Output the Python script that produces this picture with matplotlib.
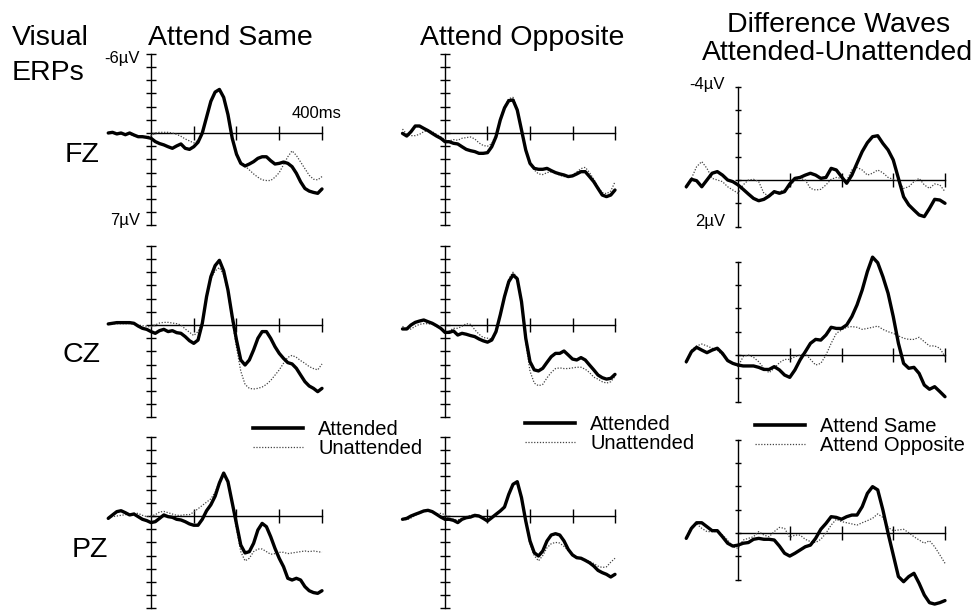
"""
Visual ERPs at FZ / CZ / PZ: Attend Same vs Attend Opposite, plus the
attended-minus-unattended difference waves. Values read off the figure
at 10 ms steps (negative up, ERP convention).
"""

import numpy as np
import matplotlib
matplotlib.use("Agg")
import matplotlib.pyplot as plt
from matplotlib.lines import Line2D

W, H = 978, 611

plt.rcParams.update({
    "font.family": ["Liberation Sans", "DejaVu Sans"],
    "axes.linewidth": 1.0,
})

# time base (ms), -100 .. 400 in 10 ms steps
t_ms = np.arange(-100, 401, 10)

# ---- Attend Same (µV) ----
same_fz_att = [0.0, -0.05, 0.07, 0.0, 0.13, 0.0, 0.15, 0.28, 0.28, 0.33,
               0.4, 0.65, 0.8, 0.9, 1.04, 1.16, 0.98, 0.83, 1.16, 1.24,
               1.04, 0.7, 0.0, -1.2, -2.4, -3.1, -3.3, -2.7, -1.4, 0.4,
               1.6, 2.3, 2.5, 2.35, 2.17, 1.92, 1.8, 1.8, 2.1, 2.35,
               2.3, 2.2, 2.3, 2.55, 3.05, 3.7, 4.2, 4.4, 4.5, 4.57,
               4.24]
same_fz_unatt = [0.0, -0.05, 0.05, 0.1, 0.1, 0.1, 0.2, 0.3, 0.3, 0.3,
                 0.2, 0.0, -0.05, -0.05, -0.05, 0.0, 0.1, 0.25, 0.45, 0.6,
                 0.75, 0.55, -0.05, -1.2, -2.4, -3.1, -3.3, -2.7, -1.4, 0.4,
                 1.7, 2.2, 2.5, 2.8, 3.1, 3.35, 3.55, 3.6, 3.6, 3.35,
                 3.0, 2.4, 1.8, 1.35, 1.7, 2.2, 2.7, 3.2, 3.5, 3.55,
                 3.3]
same_cz_att = [-0.08, -0.13, -0.18, -0.18, -0.18, -0.18, -0.13, 0.08, 0.25, 0.33,
               0.5, 0.63, 0.43, 0.33, 0.5, 0.43, 0.58, 0.63, 0.88, 1.19,
               1.39, 1.14, -0.13, -2.15, -3.66, -4.5, -4.9, -4.1, -2.65, -0.63,
               1.14, 2.65, 3.03, 2.65, 1.89, 1.01, 0.5, 0.5, 1.01, 1.64,
               2.15, 2.53, 2.85, 2.95, 3.28, 3.79, 4.29, 4.62, 4.8, 5.05,
               4.8]
same_cz_unatt = [-0.1, -0.1, -0.1, -0.1, -0.1, -0.1, -0.1, 0.0, 0.05, 0.1,
                 0.15, 0.0, -0.15, -0.2, -0.2, -0.15, -0.1, 0.0, 0.3, 0.55,
                 0.8, 0.5, -0.2, -2.1, -3.5, -4.1, -4.35, -3.8, -2.5, -0.3,
                 1.7, 3.5, 4.5, 4.8, 4.85, 4.8, 4.7, 4.5, 4.2, 3.8,
                 3.4, 2.9, 2.45, 2.3, 2.45, 2.7, 2.9, 3.15, 3.3, 3.4,
                 2.95]
same_pz_att = [0.18, -0.08, -0.33, -0.4, -0.25, -0.08, -0.15, 0.05, 0.25, 0.35,
               0.5, 0.43, 0.18, -0.08, 0.05, 0.1, 0.25, 0.3, 0.43, 0.6,
               0.7, 0.7, 0.25, -0.4, -0.85, -1.5, -2.5, -3.25, -2.6, -1.0,
               0.6, 2.2, 2.8, 2.7, 2.07, 1.06, 0.56, 0.81, 1.57, 2.45,
               3.21, 3.84, 4.72, 4.85, 4.72, 4.85, 5.35, 5.66, 5.8, 5.86,
               5.66]
same_pz_unatt = [0.1, 0.05, 0.0, -0.05, -0.1, -0.15, -0.2, -0.2, -0.05, 0.05,
                 0.0, -0.1, -0.3, -0.35, -0.25, -0.15, -0.05, -0.05, -0.1, -0.1,
                 -0.3, -0.55, -0.8, -1.05, -1.3, -1.8, -2.6, -3.2, -2.6, -0.9,
                 1.0, 2.7, 3.4, 3.2, 2.7, 2.5, 2.5, 2.7, 2.9, 2.85,
                 2.75, 2.75, 2.85, 2.8, 2.75, 2.7, 2.65, 2.7, 2.65, 2.7,
                 2.75]

# ---- Attend Opposite (µV) ----
opp_fz_att = [0.03, 0.23, -0.1, -0.53, -0.53, -0.35, -0.18, 0.03, 0.23, 0.4,
              0.66, 0.66, 0.78, 0.83, 1.04, 1.24, 1.34, 1.41, 1.54, 1.54,
              1.49, 1.04, 0.28, -0.98, -1.9, -2.45, -2.5, -1.74, -0.23, 1.29,
              2.3, 2.68, 2.75, 2.75, 2.68, 2.85, 3.0, 3.1, 3.18, 3.3,
              3.25, 3.1, 2.93, 2.93, 3.3, 3.69, 4.2, 4.7, 4.82, 4.7,
              4.32]
opp_fz_unatt = [-0.3, 0.1, 0.2, 0.2, 0.1, -0.1, -0.2, -0.1, 0.1, 0.3,
                0.5, 0.6, 0.5, 0.55, 0.4, 0.35, 0.3, 0.45, 0.75, 0.95,
                1.0, 0.8, 0.1, -1.1, -2.0, -2.6, -2.7, -1.9, -0.3, 1.3,
                2.4, 2.8, 3.1, 3.15, 3.0, 2.95, 3.0, 3.2, 3.3, 3.3,
                3.2, 2.95, 2.7, 2.6, 3.0, 3.5, 4.1, 4.5, 4.6, 4.4,
                3.7]
opp_cz_att = [0.3, 0.3, 0.0, -0.2, -0.3, -0.38, -0.25, -0.13, 0.05, 0.25,
              0.56, 0.56, 0.45, 0.76, 0.63, 0.7, 0.8, 0.88, 1.06, 1.2,
              1.3, 1.14, 0.5, -0.76, -2.15, -3.28, -3.79, -3.5, -1.77, 1.0,
              2.78, 3.4, 3.48, 3.28, 2.83, 2.4, 2.15, 2.15, 1.97, 2.27,
              2.58, 2.65, 2.47, 2.65, 3.03, 3.4, 3.79, 3.99, 4.1, 4.04,
              3.74]
opp_cz_unatt = [0.1, 0.35, 0.3, 0.1, -0.05, -0.1, -0.1, -0.05, 0.1, 0.3,
                0.6, 0.45, 0.25, 0.25, 0.1, -0.1, -0.05, 0.35, 0.7, 0.95,
                1.0, 1.05, 0.4, -0.9, -2.3, -3.5, -4.0, -3.6, -1.7, 1.3,
                3.5, 4.4, 4.6, 4.5, 4.0, 3.6, 3.3, 3.25, 3.3, 3.3,
                3.25, 3.2, 3.2, 3.35, 3.6, 3.95, 4.1, 4.3, 4.4, 4.3,
                3.9]
opp_pz_att = [0.25, 0.18, 0.0, -0.13, -0.25, -0.38, -0.43, -0.33, -0.13, 0.08,
              0.25, 0.25, 0.33, 0.5, 0.25, 0.13, 0.08, -0.05, 0.0, 0.18,
              0.38, 0.13, -0.13, -0.38, -0.68, -1.64, -2.4, -2.6, -1.39, 0.38,
              1.89, 2.78, 3.03, 2.65, 1.89, 1.44, 1.34, 1.44, 1.89, 2.53,
              2.95, 3.16, 3.2, 3.36, 3.54, 3.79, 4.12, 4.29, 4.42, 4.62,
              4.42]
opp_pz_unatt = [0.2, 0.3, 0.15, -0.05, -0.2, -0.35, -0.4, -0.3, -0.15, -0.2,
                -0.1, 0.2, 0.25, 0.3, 0.2, 0.05, -0.05, -0.1, -0.05, 0.1,
                0.3, 0.15, -0.1, -0.35, -0.65, -1.6, -2.4, -2.5, -1.3, 0.5,
                2.1, 3.0, 3.4, 3.0, 2.4, 2.1, 2.0, 2.05, 2.3, 2.6,
                2.9, 3.1, 3.2, 3.3, 3.45, 3.6, 3.8, 3.9, 3.85, 3.5,
                3.2]

# ---- Difference waves, attended - unattended (µV) ----
diff_fz_same = [0.29, -0.03, 0.03, 0.29, 0.0, -0.29, -0.36, -0.21, 0.0, 0.07,
                0.21, 0.4, 0.6, 0.79, 0.89, 0.83, 0.69, 0.5, 0.57, 0.5,
                0.17, -0.07, -0.11, -0.21, -0.29, -0.21, -0.07, -0.11, -0.5, -0.43,
                -0.14, 0.14, -0.21, -0.72, -1.22, -1.6, -1.86, -1.9, -1.57, -1.29,
                -0.86, -0.07, 0.72, 1.07, 1.29, 1.5, 1.57, 1.22, 0.83, 0.86,
                1.0]
diff_fz_opp = [0.36, -0.07, -0.57, -0.79, -0.5, -0.07, 0.0, 0.07, 0.29, 0.43,
               0.57, 0.21, 0.0, -0.03, 0.07, 0.57, 0.69, 0.57, 0.5, 0.43,
               0.29, 0.0, -0.07, 0.0, 0.36, 0.43, 0.4, 0.21, -0.03, -0.11,
               -0.07, 0.03, -0.43, -0.54, -0.43, -0.21, -0.29, -0.43, -0.31, -0.11,
               -0.03, 0.07, 0.36, 0.29, 0.07, -0.07, 0.21, 0.36, 0.17, 0.21,
               0.5]
diff_cz_same = [0.29, -0.14, -0.33, -0.21, -0.1, -0.21, -0.29, -0.07, 0.24, 0.36,
                0.43, 0.47, 0.47, 0.47, 0.53, 0.62, 0.62, 0.5, 0.64, 0.86,
                0.96, 0.64, 0.21, -0.14, -0.5, -0.67, -0.64, -0.86, -1.19, -1.14,
                -1.14, -1.29, -1.65, -2.15, -2.79, -3.58, -4.2, -3.96, -3.36, -2.65,
                -1.65, -0.5, 0.36, 0.57, 0.53, 0.79, 1.29, 1.47, 1.36, 1.57,
                1.79]
diff_cz_opp = [0.36, -0.21, -0.39, -0.47, -0.39, -0.29, -0.21, 0.0, 0.21, 0.36,
               0.5, 0.07, 0.0, 0.1, 0.29, 0.57, 0.76, 0.57, 0.33, 0.19,
               0.19, 0.07, 0.0, -0.07, 0.19, 0.43, 0.36, 0.0, -0.5, -0.93,
               -1.07, -1.19, -1.22, -1.19, -1.1, -1.14, -1.19, -1.24, -1.1, -1.0,
               -0.93, -0.82, -0.72, -0.67, -0.67, -0.76, -0.57, -0.39, -0.39, -0.29,
               0.07]
diff_pz_same = [0.23, -0.2, -0.44, -0.44, -0.27, -0.1, -0.1, 0.16, 0.44, 0.56,
                0.52, 0.44, 0.41, 0.27, 0.23, 0.27, 0.27, 0.3, 0.56, 0.87,
                0.99, 0.87, 0.73, 0.59, 0.52, 0.23, -0.16, -0.41, -0.7, -0.67,
                -0.59, -0.7, -0.77, -0.77, -1.13, -1.7, -1.99, -1.85, -0.99, 0.01,
                0.94, 1.87, 2.09, 1.87, 1.73, 2.16, 2.66, 2.99, 3.05, 2.99,
                2.9]
diff_pz_opp = [0.16, -0.27, -0.39, -0.2, -0.06, -0.06, -0.06, 0.09, 0.3, 0.59,
               0.66, 0.3, 0.23, 0.16, -0.06, 0.09, 0.16, -0.06, -0.24, -0.2,
               0.19, 0.09, 0.09, 0.27, 0.37, 0.41, 0.27, 0.01, -0.34, -0.59,
               -0.49, -0.44, -0.39, -0.34, -0.44, -0.53, -0.63, -0.82, -0.67, -0.24,
               -0.1, -0.13, -0.16, -0.01, 0.16, 0.3, 0.44, 0.33, 0.59, 0.94,
               1.3]

# panel geometry in pixels: x of t=0 and px per ms for each column,
# y of 0 µV for each row, px per µV and the µV range of the vertical axis
COL_X0 = [151, 445, 738]
COL_PXMS = [0.4275, 0.425, 0.5175]
ROW_Y0 = {0: [133, 325, 516], 1: [133, 325, 516], 2: [180, 355, 533]}
COL_PXUV = [13.2, 13.2, 23.3]
COL_RANGE = [(-6, 7), (-6, 7), (-4, 2)]
XLIM = (-110, 410)


def px(x, y):
    return x / W, 1 - y / H


def make_panel(fig, col, row):
    x0, pxms = COL_X0[col], COL_PXMS[col]
    y0, pxuv = ROW_Y0[col][row], COL_PXUV[col]
    lo, hi = COL_RANGE[col]
    ylo, yhi = lo - 0.4, hi + 0.4
    left = x0 + XLIM[0] * pxms
    width = (XLIM[1] - XLIM[0]) * pxms
    top = y0 + ylo * pxuv
    height = (yhi - ylo) * pxuv
    ax = fig.add_axes([left / W, 1 - (top + height) / H, width / W, height / H])
    ax.set_xlim(*XLIM)
    ax.set_ylim(yhi, ylo)  # negative up
    ax.patch.set_alpha(0)
    for s in ["top", "right"]:
        ax.spines[s].set_visible(False)
    ax.spines["left"].set_position(("data", 0))
    ax.spines["left"].set_bounds(lo, hi)
    ax.spines["bottom"].set_position(("data", 0))
    ax.spines["bottom"].set_bounds(0, 400)
    ax.set_xticks([100, 200, 300, 400])
    ax.set_yticks(range(lo, hi + 1))
    xlen, ylen = (9.5, 5.0) if col == 2 else (10, 6.5)
    ax.tick_params(axis="x", direction="inout", length=xlen, width=1.0,
                   labelbottom=False)
    ax.tick_params(axis="y", direction="inout", length=ylen, width=1.0,
                   labelleft=False)
    return ax


def draw(ax, solid, dotted):
    ax.plot(t_ms, dotted, color="#444444", lw=0.9, ls=(0, (1, 1.3)),
            clip_on=False, zorder=3)
    ax.plot(t_ms, solid, color="black", lw=2.4, clip_on=False, zorder=4,
            solid_joinstyle="round", solid_capstyle="round")


def main():
    fig = plt.figure(figsize=(W / 100, H / 100), dpi=100)
    fig.patch.set_facecolor("white")

    panels = [
        [(same_fz_att, same_fz_unatt), (same_cz_att, same_cz_unatt), (same_pz_att, same_pz_unatt)],
        [(opp_fz_att, opp_fz_unatt), (opp_cz_att, opp_cz_unatt), (opp_pz_att, opp_pz_unatt)],
        [(diff_fz_same, diff_fz_opp), (diff_cz_same, diff_cz_opp), (diff_pz_same, diff_pz_opp)],
    ]
    axes = {}
    for col in range(3):
        for row in range(3):
            ax = make_panel(fig, col, row)
            draw(ax, *panels[col][row])
            axes[col, row] = ax

    # scale labels on the top row
    lab = dict(fontsize=12, textcoords="offset pixels", ha="right", va="baseline")
    axes[0, 0].annotate("-6\u00b5V", xy=(0, -6), xytext=(-11, -9), **lab)
    axes[0, 0].annotate("7\u00b5V", xy=(0, 7), xytext=(-11, 0), **lab)
    axes[2, 0].annotate("-4\u00b5V", xy=(0, -4), xytext=(-13, -2), **lab)
    axes[2, 0].annotate("2\u00b5V", xy=(0, 2), xytext=(-13, 1), **lab)
    axes[0, 0].annotate("400ms", xy=(400, 0), xytext=(-5, 15), fontsize=12,
                        textcoords="offset pixels", ha="center", va="baseline")

    # headings
    big = dict(fontsize=20.5, va="baseline")
    fig.text(*px(12, 45), "Visual", ha="left", **big)
    fig.text(*px(12, 80), "ERPs", ha="left", **big)
    fig.text(*px(230, 45), "Attend Same", ha="center", **big)
    fig.text(*px(522, 45), "Attend Opposite", ha="center", **big)
    fig.text(*px(839, 32), "Difference Waves", ha="center", **big)
    fig.text(*px(838, 60), "Attended-Unattended", ha="center", **big)
    for name, x, y in [("FZ", 65, 162), ("CZ", 63, 362), ("PZ", 72, 557)]:
        fig.text(*px(x, y), name, ha="left", **big)

    # legends under the CZ row
    solid_h = Line2D([], [], color="black", lw=2.6)
    dot_h = Line2D([], [], color="#444444", lw=0.9, ls=(0, (1, 1.3)))
    for (hx, hy), labels in [((253, 439), ["Attended", "Unattended"]),
                             ((525, 434), ["Attended", "Unattended"]),
                             ((755, 436), ["Attend Same", "Attend Opposite"])]:
        fig.legend([solid_h, dot_h], labels, loc="center left",
                   bbox_to_anchor=px(hx, hy), bbox_transform=fig.transFigure,
                   frameon=False, fontsize=14.5, handlelength=2.5,
                   handletextpad=0.75, labelspacing=0.0, borderpad=0,
                   borderaxespad=0)

    fig.savefig("out.png", dpi=100, facecolor="white")
    plt.close(fig)


if __name__ == "__main__":
    main()
